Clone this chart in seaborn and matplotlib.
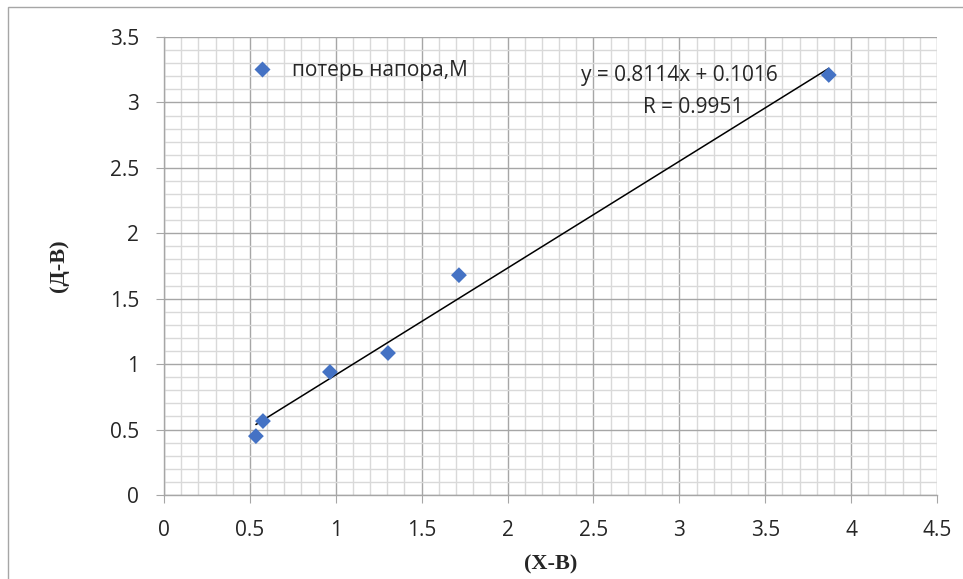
import numpy as np
import pandas as pd
import matplotlib
matplotlib.use('Agg')
import matplotlib.pyplot as plt
from matplotlib.ticker import MultipleLocator
from matplotlib.patches import Rectangle
import seaborn as sns

# данные
x_vals = [0.535, 0.576, 0.966, 1.304, 1.717, 3.87]
y_vals = [0.45, 0.565, 0.94, 1.085, 1.68, 3.21]
series_name = 'потерь напора,М'
eq_text = 'y = 0.8114x + 0.1016'
r_text = 'R = 0.9951'

df = pd.DataFrame({'x': x_vals, 'y': y_vals, 'serie': series_name})

sns.set_style('white')
plt.rcParams['font.family'] = ['Open Sans', 'DejaVu Sans']

fig = plt.figure(figsize=(9.63, 5.79), dpi=100)
ax = fig.add_axes([164/963, 1-495/579, (937-164)/963, (495-37)/579])

# сетка
ax.xaxis.set_major_locator(MultipleLocator(0.5))
ax.xaxis.set_minor_locator(MultipleLocator(0.1))
ax.yaxis.set_major_locator(MultipleLocator(0.5))
ax.yaxis.set_minor_locator(MultipleLocator(0.1))
ax.grid(which='major', color='#a6a6a6', lw=1.0)
ax.grid(which='minor', color='#d9d9d9', lw=1.0)
ax.set_axisbelow(True)

sns.regplot(data=df, x='x', y='y', scatter=False, ci=None, truncate=True,
            color='black', line_kws={'lw': 1.1}, ax=ax)
sns.scatterplot(data=df, x='x', y='y', hue='serie', palette=['#4472C4'],
                marker='D', s=65, edgecolor='none', ax=ax, zorder=3)

ax.set_xlim(0, 4.5)
ax.set_ylim(0, 3.5)
ax.set_xticks(np.arange(0, 4.51, 0.5))
ax.set_xticklabels(['0', '0.5', '1', '1.5', '2', '2.5', '3', '3.5', '4', '4.5'])
ax.set_yticks(np.arange(0, 3.51, 0.5))
ax.set_yticklabels(['0', '0.5', '1', '1.5', '2', '2.5', '3', '3.5'])
ax.tick_params(axis='both', which='major', labelsize=15, length=6,
               color='#a6a6a6', direction='out', bottom=True, left=True)
ax.tick_params(axis='both', which='minor', length=0)
ax.tick_params(axis='x', pad=12)
ax.tick_params(axis='y', pad=12)

for s in ['top', 'right']:
    ax.spines[s].set_visible(False)
for s in ['left', 'bottom']:
    ax.spines[s].set_color('#a6a6a6')
    ax.spines[s].set_linewidth(1.0)

ax.set_xlabel('(Х-В)', family='Liberation Serif', fontweight='bold', fontsize=16, labelpad=10)
ax.set_ylabel('(Д-В)', family='Liberation Serif', fontweight='bold', fontsize=16, labelpad=29)

leg = ax.legend(loc='center left', bbox_to_anchor=(0.075, 0.927), frameon=False,
                fontsize=15, handletextpad=0.45, markerscale=1.0)

ax.text(0.667, 0.917, eq_text, transform=ax.transAxes, ha='center', va='center', fontsize=15)
ax.text(0.684, 0.846, r_text, transform=ax.transAxes, ha='center', va='center', fontsize=15)

# рамка диаграммы
fig.patches.append(Rectangle((8/963, -0.1), 1.2, 1 - 7/579 + 0.1, transform=fig.transFigure,
                             fill=False, edgecolor='#a6a6a6', lw=1.0))

fig.savefig('out.png', dpi=100)
